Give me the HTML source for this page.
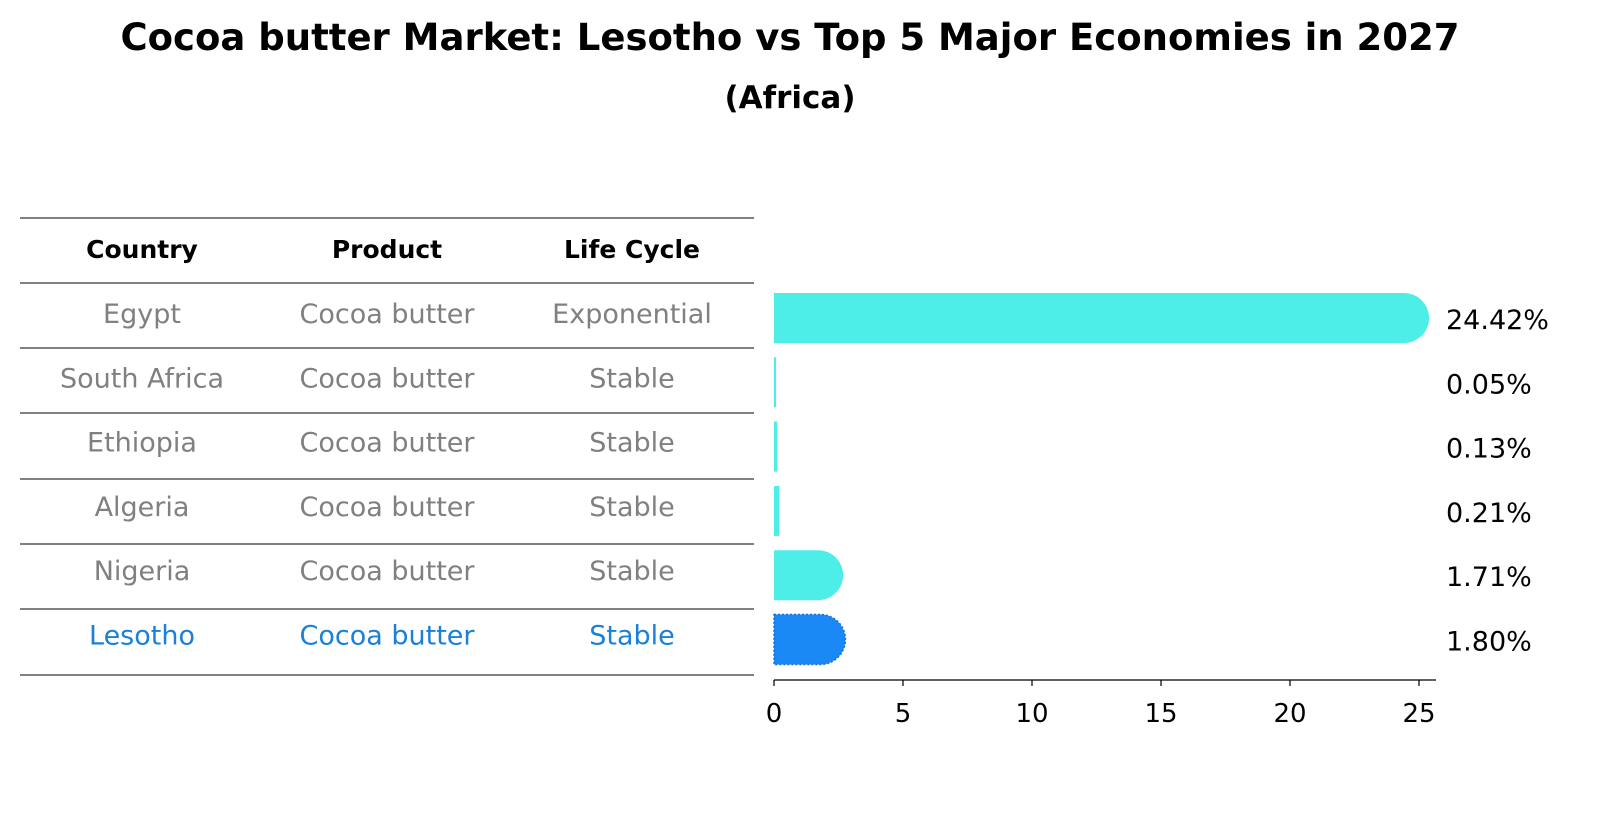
<!DOCTYPE html>
<html><head><meta charset="utf-8"><style>
body{margin:0;background:#fff;font-family:"Liberation Sans","DejaVu Sans",sans-serif;}
svg text{font-family:"DejaVu Sans","Liberation Sans",sans-serif;}
</style></head><body>
<svg id="c" width="1604" height="823" xmlns="http://www.w3.org/2000/svg">
<text x="790" y="50" text-anchor="middle" font-size="37" font-weight="bold">Cocoa butter Market: Lesotho vs Top 5 Major Economies in 2027</text>
<text x="790" y="108" text-anchor="middle" font-size="31" font-weight="bold">(Africa)</text>
<g id="table"></g>
<g id="bars"></g>
</svg>
<script>
const countries=["Egypt","South Africa","Ethiopia","Algeria","Nigeria","Lesotho"];
const products=["Cocoa butter","Cocoa butter","Cocoa butter","Cocoa butter","Cocoa butter","Cocoa butter"];
const lifeCycles=["Exponential","Stable","Stable","Stable","Stable","Stable"];
const values=[24.42,0.05,0.13,0.21,1.71,1.80];
const valueLabels=["24.42%","0.05%","0.13%","0.21%","1.71%","1.80%"];
const ticks=[0,5,10,15,20,25];
const NS="http://www.w3.org/2000/svg";
function mk(t,a,p,txt){const e=document.createElementNS(NS,t);for(const k in a)e.setAttribute(k,a[k]);if(txt!==undefined)e.textContent=txt;p.appendChild(e);return e;}
const X=v=>774+v*25.8;
const rowY=i=>318+i*64.3;
const tb=document.getElementById('table');
const lineYs=[218,283,348,413,479,544,609,675];
lineYs.forEach((y,i)=>{const l=mk('line',{x1:20,x2:754,y1:y,y2:y,stroke:'#000','stroke-width':1},tb);

});
const cols=[142,387,632];
["Country","Product","Life Cycle"].forEach((h,j)=>{const t=mk('text',{x:cols[j],y:258,'text-anchor':'middle','font-size':25,'font-weight':'bold'},tb,h);

});
countries.forEach((c,i)=>{const col=i===5?'#1a80d8':'#808080';[c,products[i],lifeCycles[i]].forEach((s,j)=>{
const t=mk('text',{x:cols[j],y:rowY(i)+5,'text-anchor':'middle','font-size':27,fill:col},tb,s);

});});
const bg=document.getElementById('bars');
const h=50,r=25;
values.forEach((v,i)=>{const y=rowY(i)-h/2;const w=X(v)-X(0);const fill=i===5?'#1a88f5':'#4deee8';
let el;
if(w>r){el=mk('path',{d:`M${X(0)},${y} H${X(v)} A${r},${r} 0 0 1 ${X(v)},${y+h} H${X(0)} Z`,fill:fill},bg);}
else{el=mk('rect',{x:X(0),y:y,width:Math.max(w,2),height:h,fill:fill},bg);}
if(i===5){el.setAttribute('stroke','#1570d8');el.setAttribute('stroke-dasharray','2,2');el.setAttribute('stroke-width','1.5');}


const t=mk('text',{x:1446,y:rowY(i)+11,'font-size':27},bg,valueLabels[i]);

});
const ax=mk('line',{x1:774,x2:1436,y1:680,y2:680,stroke:'#000','stroke-width':1.2},bg);


ticks.forEach(tk=>{const l=mk('line',{x1:X(tk),x2:X(tk),y1:680,y2:686,stroke:'#000','stroke-width':1.2},bg);


const t=mk('text',{x:X(tk),y:722,'text-anchor':'middle','font-size':26},bg,String(tk));

});
</script>
</body></html>
